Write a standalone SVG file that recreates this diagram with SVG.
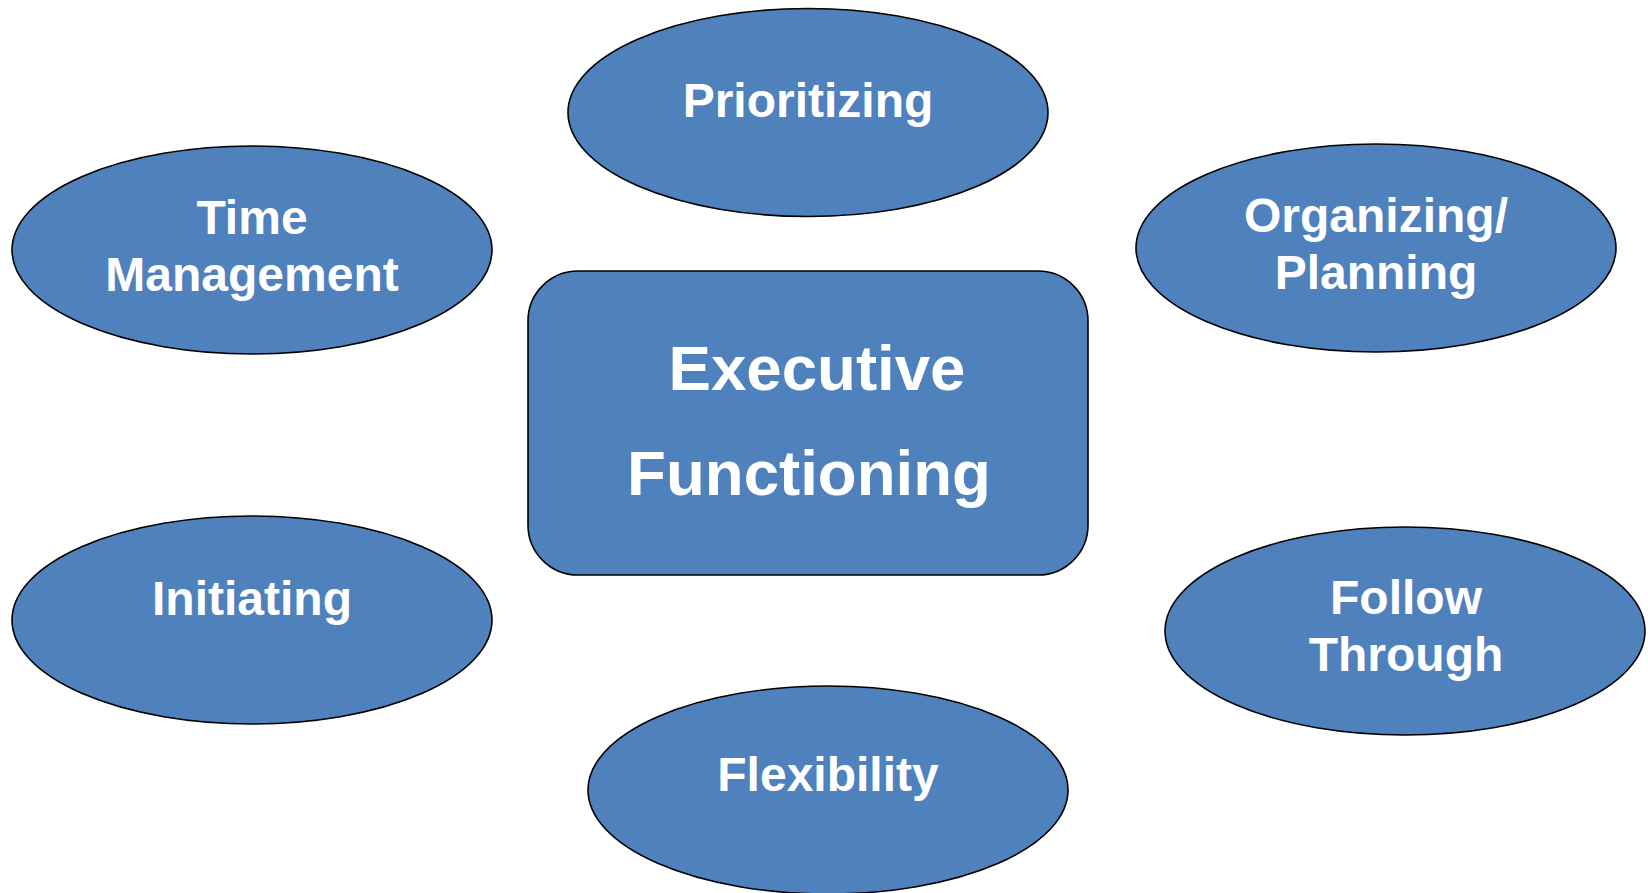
<svg xmlns="http://www.w3.org/2000/svg" width="1648" height="893" viewBox="0 0 1648 893">
<style>
.n{fill:#4F81BD;stroke:#000;stroke-width:1.6}
.t{fill:#fff;font-family:"Liberation Sans",Arial,sans-serif;font-weight:bold;text-anchor:middle}
.s{font-size:48px}
.b{font-size:63.6px}
</style>
<rect width="1648" height="893" fill="#fff"/>
<g id="connectors"></g>
<g id="center">
<rect class="n" x="528" y="271" width="560" height="304" rx="50" ry="50"/>
<text class="t b" x="817" y="390">Executive</text>
<text class="t b" x="809" y="495">Functioning</text>
</g>
<g id="prioritizing">
<ellipse class="n" cx="808" cy="112.5" rx="240" ry="104"/>
<text class="t s" x="808" y="117">Prioritizing</text>
</g>
<g id="time-management">
<ellipse class="n" cx="252" cy="250" rx="240" ry="104"/>
<text class="t s" x="252" y="234">Time</text>
<text class="t s" x="252" y="291">Management</text>
</g>
<g id="organizing">
<ellipse class="n" cx="1376" cy="248" rx="240" ry="104"/>
<text class="t s" x="1376" y="232">Organizing/</text>
<text class="t s" x="1376" y="289">Planning</text>
</g>
<g id="initiating">
<ellipse class="n" cx="252" cy="620" rx="240" ry="104"/>
<text class="t s" x="252" y="615">Initiating</text>
</g>
<g id="follow-through">
<ellipse class="n" cx="1405" cy="631" rx="240" ry="104"/>
<text class="t s" x="1406" y="614">Follow</text>
<text class="t s" x="1406" y="671">Through</text>
</g>
<g id="flexibility">
<ellipse class="n" cx="828" cy="790" rx="240" ry="104"/>
<text class="t s" x="828" y="791">Flexibility</text>
</g>
</svg>
